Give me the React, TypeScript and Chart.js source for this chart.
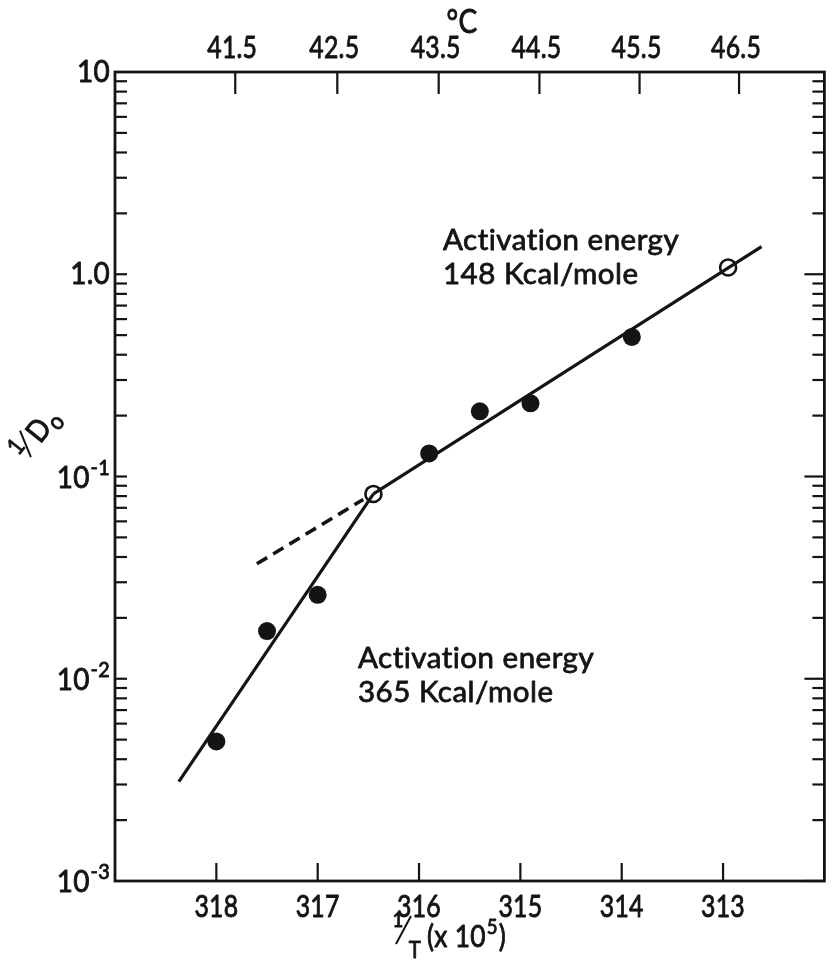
import React, { useEffect, useRef } from 'react';
import { Chart, registerables } from 'chart.js';

Chart.register(...registerables);

// Measured 1/Do values against 1/T (x 10^5)
const filledX = [318.0, 317.5, 317.0, 315.9, 315.4, 314.9, 313.9];
const filledY = [0.0049, 0.0172, 0.026, 0.13, 0.21, 0.23, 0.49];
const openX = [316.45, 312.95];
const openY = [0.082, 1.08];

// Fitted lines (two activation-energy regimes) and the dashed extrapolation
const steepLineX = [318.37, 316.45];
const steepLineY = [0.0031, 0.082];
const shallowLineX = [316.45, 312.62];
const shallowLineY = [0.082, 1.37];
const dashedLineX = [317.6, 316.55];
const dashedLineY = [0.037, 0.077];

// Axis ticks
const inverseTempTicks = [318, 317, 316, 315, 314, 313];
const celsiusTicks = [41.5, 42.5, 43.5, 44.5, 45.5, 46.5];
const decadeTicks = [10, 1, 0.1, 0.01, 0.001];
const decadeBase = ['10', '1.0', '10', '10', '10'];
const decadeExp = ['', '', '-1', '-2', '-3'];

const annotationUpper = ['Activation energy', '148 Kcal/mole'];
const annotationLower = ['Activation energy', '365 Kcal/mole'];

const INK = '#141414';
const FONT = 'Lato';

const toPoints = (xs: number[], ys: number[]) => xs.map((x, i) => ({ x, y: ys[i] }));

function text(
  ctx: CanvasRenderingContext2D,
  s: string,
  x: number,
  y: number,
  size: number,
  align: CanvasTextAlign = 'center',
  squeeze = 0.8,
  baseline: CanvasTextBaseline = 'middle',
  weight = 0.9,
  spacing = '0.3px'
) {
  ctx.save();
  ctx.translate(x, y);
  ctx.scale(squeeze, 1);
  ctx.font = `${size}px ${FONT}`;
  // non-zero letter spacing keeps "ti" from turning into a ligature
  (ctx as any).letterSpacing = spacing;
  ctx.textAlign = align;
  ctx.textBaseline = baseline;
  ctx.fillText(s, 0, 0);
  if (weight > 0) {
    ctx.lineWidth = weight;
    ctx.lineJoin = 'round';
    ctx.strokeText(s, 0, 0);
  }
  ctx.restore();
}

function width(ctx: CanvasRenderingContext2D, s: string, size: number, squeeze = 0.8) {
  ctx.save();
  ctx.font = `${size}px ${FONT}`;
  (ctx as any).letterSpacing = '0.3px';
  const w = ctx.measureText(s).width * squeeze;
  ctx.restore();
  return w;
}

function seg(ctx: CanvasRenderingContext2D, x1: number, y1: number, x2: number, y2: number) {
  ctx.beginPath();
  ctx.moveTo(x1, y1);
  ctx.lineTo(x2, y2);
  ctx.stroke();
}

const framePlugin = {
  id: 'frameTicksLabels',
  afterDraw(chart: any) {
    const { ctx, chartArea: a, scales } = chart;
    const xs = scales.x;
    const ys = scales.y;
    ctx.save();
    ctx.strokeStyle = INK;
    ctx.fillStyle = INK;
    ctx.lineCap = 'butt';

    // frame
    ctx.lineWidth = 2.8;
    ctx.strokeRect(a.left, a.top, a.right - a.left, a.bottom - a.top);

    // log ticks on left and right, pointing inward
    ctx.lineWidth = 2.2;
    for (let e = -3; e <= 0; e++) {
      for (let m = 1; m <= 9; m++) {
        const v = m * Math.pow(10, e);
        const py = ys.getPixelForValue(v);
        const major = m === 1;
        if (!(major && e === -3)) seg(ctx, a.left, py, a.left + 12, py);
        seg(ctx, a.right, py, a.right - (major ? 20 : 12), py);
      }
    }

    // bottom ticks (1/T) and top ticks (°C), pointing inward
    inverseTempTicks.forEach((v) => {
      const px = xs.getPixelForValue(v);
      seg(ctx, px, a.bottom, px, a.bottom - 18);
      text(ctx, String(v), px, a.bottom + 26, 31, 'center', 0.8);
    });
    celsiusTicks.forEach((c) => {
      const v = 1e5 / (c + 273.15);
      const px = xs.getPixelForValue(v);
      seg(ctx, px, a.top, px, a.top + 22);
      text(ctx, c.toFixed(1), px - 3, a.top - 24, 31, 'center', 0.8);
    });

    // decade labels with superscript exponents
    decadeTicks.forEach((v, i) => {
      const py = ys.getPixelForValue(v);
      const right = a.left - 5;
      const exp = decadeExp[i];
      if (exp) {
        const we = width(ctx, exp, 22, 0.9);
        text(ctx, exp, right, py - 9, 22, 'right', 0.9);
        text(ctx, decadeBase[i], right - we - 1, py + 1, 31, 'right', 0.9);
      } else {
        text(ctx, decadeBase[i], right, py, 31, 'right', 0.9);
      }
    });

    // top axis title
    text(ctx, '°C', 462, 22, 33, 'center', 0.85);

    // bottom axis title: 1/T (x 10^5)
    text(ctx, '1', 398, 920, 22, 'center', 0.85);
    ctx.lineWidth = 2;
    seg(ctx, 396, 944, 411, 916);
    text(ctx, 'T', 415, 950, 24, 'center', 0.85);
    const bx = 427;
    text(ctx, '(x 10', bx, 937, 31, 'left', 0.85);
    const w10 = width(ctx, '(x 10', 31, 0.85);
    text(ctx, '5', bx + w10 + 1, 927, 22, 'left', 0.85);
    const w5 = width(ctx, '5', 22, 0.85);
    text(ctx, ')', bx + w10 + w5 + 2, 937, 31, 'left', 0.85);

    // y axis title: 1/Do, set on a slant
    ctx.save();
    ctx.translate(38, 432);
    ctx.rotate(-0.9);
    text(ctx, '1', -25, -8, 24, 'center', 0.9);
    ctx.lineWidth = 2;
    seg(ctx, -24, 10, -10, -15);
    text(ctx, 'D', 2, 0, 30, 'center', 0.9);
    text(ctx, 'o', 19, 8, 24, 'center', 0.9);
    ctx.restore();

    // annotations
    const drawBlock = (lines: string[], x: number, y: number) => {
      lines.forEach((s, i) => text(ctx, s, x, y + i * 34, 29.5, 'left', 1.0, 'alphabetic', 0.8, '0.5px'));
    };
    drawBlock(annotationUpper, 443, 250);
    drawBlock(annotationLower, 358, 668);

    ctx.restore();
  },
};

export default function App() {
  const canvasRef = useRef<HTMLCanvasElement | null>(null);

  useEffect(() => {
    const canvas = canvasRef.current;
    if (!canvas) return;
    const lineStyle = {
      borderColor: INK,
      borderWidth: 3.2,
      pointRadius: 0,
      showLine: true,
      fill: false,
    };
    const chart = new Chart(canvas, {
      type: 'scatter',
      data: {
        datasets: [
          { ...lineStyle, data: toPoints(steepLineX, steepLineY) },
          { ...lineStyle, data: toPoints(shallowLineX, shallowLineY) },
          { ...lineStyle, borderWidth: 3.6, borderDash: [12, 7], data: toPoints(dashedLineX, dashedLineY) },
          {
            data: toPoints(filledX, filledY),
            pointRadius: 9,
            backgroundColor: INK,
            borderColor: INK,
            borderWidth: 0,
          },
          {
            data: toPoints(openX, openY),
            pointRadius: 8,
            backgroundColor: '#ffffff',
            borderColor: INK,
            borderWidth: 2.6,
          },
        ],
      },
      options: {
        animation: false,
        responsive: false,
        events: [],
        layout: { padding: { left: 115, top: 72, right: 4, bottom: 85 } },
        plugins: { legend: { display: false }, tooltip: { enabled: false } },
        scales: {
          x: { type: 'linear', min: 312, max: 319, reverse: true, display: false },
          y: { type: 'logarithmic', min: 0.001, max: 10, display: false },
        },
      },
      plugins: [framePlugin],
    });
    return () => chart.destroy();
  }, []);

  return (
    <div style={{ position: 'absolute', left: 0, top: 0, width: 835, height: 966, background: '#fff' }}>
      <canvas ref={canvasRef} width={835} height={966} />
    </div>
  );
}
